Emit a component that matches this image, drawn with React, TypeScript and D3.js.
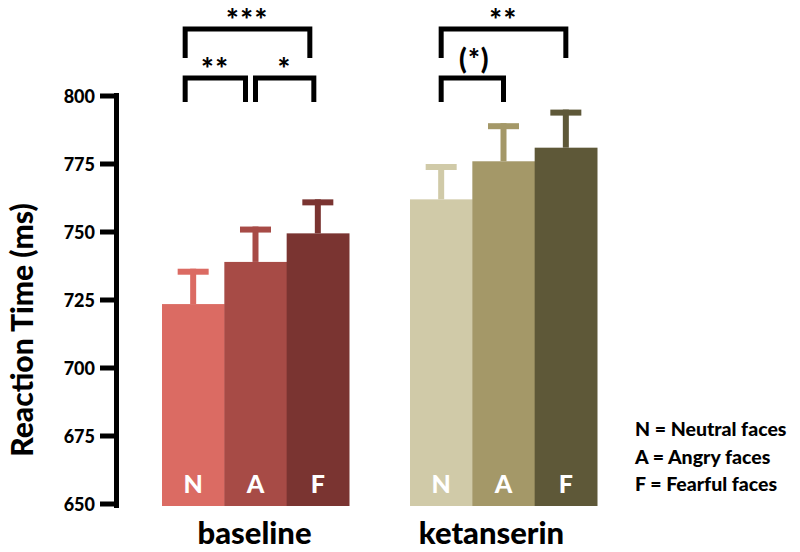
import React, { useEffect, useRef } from 'react';
import * as d3 from 'd3';

// data
const groups = ['baseline', 'ketanserin'];
const conditions = ['N', 'A', 'F'];
const baselineMeans = [723.5, 739, 749.5];
const baselineSE = [13, 13, 12.5];
const ketanserinMeans = [762, 776, 781];
const ketanserinSE = [13, 14, 14];
const yTicks = [650, 675, 700, 725, 750, 775, 800];
const legendLines = ['N = Neutral faces', 'A = Angry faces', 'F = Fearful faces'];

// significance brackets: group, from, to, label, level (0 = lower)
const brackets = [
  { group: 'baseline', from: 'N', to: 'F', label: '***', level: 1 },
  { group: 'baseline', from: 'N', to: 'A', label: '**', level: 0 },
  { group: 'baseline', from: 'A', to: 'F', label: '*', level: 0 },
  { group: 'ketanserin', from: 'N', to: 'F', label: '**', level: 1 },
  { group: 'ketanserin', from: 'N', to: 'A', label: '(*)', level: 0 },
];

const colors: Record<string, string[]> = {
  baseline: ['#DB6B63', '#A74B46', '#7A3431'],
  ketanserin: ['#D0CAA8', '#A49868', '#5E5838'],
};

const FONT = 'Lato, "Open Sans", sans-serif';
const W = 900;

const App = () => {
  const svgRef = useRef<SVGSVGElement>(null);

  useEffect(() => {
    document.body.style.margin = '0';
    const svg = d3.select(svgRef.current);
    svg.selectAll('*').remove();

    const y = d3.scaleLinear().domain([650, 800]).range([504, 96]);
    const x0 = d3.scaleBand().domain(groups).range([162, 597]).paddingInner(0.246);
    const x1 = d3.scaleBand().domain(conditions).range([0, x0.bandwidth()]);

    const rows = groups.flatMap((g) => {
      const means = g === 'baseline' ? baselineMeans : ketanserinMeans;
      const se = g === 'baseline' ? baselineSE : ketanserinSE;
      return conditions.map((c, i) => ({ group: g, cond: c, i, mean: means[i], se: se[i] }));
    });

    const cx = (g: string, c: string) => (x0(g) as number) + (x1(c) as number) + x1.bandwidth() / 2;

    // bars
    svg.append('g').selectAll('rect')
      .data(rows)
      .enter().append('rect')
      .attr('x', (d) => (x0(d.group) as number) + (x1(d.cond) as number))
      .attr('y', (d) => y(d.mean))
      .attr('width', x1.bandwidth() + 0.5)
      .attr('height', (d) => y(650) + 2 - y(d.mean))
      .attr('fill', (d) => colors[d.group][d.i]);

    // error bars (upper only)
    const err = svg.append('g');
    rows.forEach((d) => {
      const c = cx(d.group, d.cond);
      const top = y(d.mean + d.se);
      err.append('rect')
        .attr('x', c - 3).attr('y', top).attr('width', 6).attr('height', y(d.mean) - top)
        .attr('fill', colors[d.group][d.i]);
      err.append('rect')
        .attr('x', c - 15.5).attr('y', top).attr('width', 31).attr('height', 6)
        .attr('fill', colors[d.group][d.i]);
    });

    // letters inside bars
    svg.append('g').selectAll('text')
      .data(rows)
      .enter().append('text')
      .attr('x', (d) => cx(d.group, d.cond))
      .attr('y', 493)
      .attr('text-anchor', 'middle')
      .attr('font-family', FONT)
      .attr('font-weight', W)
      .attr('font-size', 25)
      .attr('fill', '#fff')
      .text((d) => d.cond);

    // y axis
    const axis = svg.append('g');
    axis.append('rect').attr('x', 114).attr('y', y(800) - 3).attr('width', 5).attr('height', y(650) - y(800) + 7).attr('fill', '#000');
    yTicks.forEach((t) => {
      axis.append('rect').attr('x', 100).attr('y', y(t) - 2.5).attr('width', 19).attr('height', 5).attr('fill', '#000');
      axis.append('text')
        .attr('x', 95).attr('y', y(t) + 6.5)
        .attr('text-anchor', 'end')
        .attr('font-family', FONT).attr('font-weight', W).attr('font-size', 18)
        .text(t);
    });

    svg.append('text')
      .attr('transform', `translate(33, 330) rotate(-90)`)
      .attr('text-anchor', 'middle')
      .attr('font-family', FONT).attr('font-weight', W).attr('font-size', 30)
      .text('Reaction Time (ms)');

    // group labels
    const labelShift: Record<string, number> = { baseline: -1, ketanserin: -12 };
    svg.append('g').selectAll('text')
      .data(groups)
      .enter().append('text')
      .attr('x', (g) => (x0(g) as number) + x0.bandwidth() / 2 + labelShift[g])
      .attr('y', 544)
      .attr('text-anchor', 'middle')
      .attr('font-family', FONT).attr('font-weight', W).attr('font-size', 31)
      .text((g) => g);

    // significance brackets
    const levelTop = [78, 29];
    const levelBottom = [102, 58];
    const legShift: Record<string, number[]> = {
      'baseline-N-F': [-8, -8],
      'baseline-N-A': [-8, -10],
      'baseline-A-F': [0, -4],
    };
    const br = svg.append('g');
    brackets.forEach((b) => {
      const sh = legShift[`${b.group}-${b.from}-${b.to}`] || [0, 0];
      const xa = cx(b.group, b.from) + sh[0];
      const xb = cx(b.group, b.to) + sh[1];
      const top = levelTop[b.level];
      const bot = levelBottom[b.level];
      const paren = b.label.startsWith('(');
      br.append('path')
        .attr('d', `M${xa},${bot}V${top}H${xb}V${bot}`)
        .attr('fill', 'none')
        .attr('stroke', '#000')
        .attr('stroke-width', 5)
        .attr('stroke-linejoin', 'miter');
      br.append('text')
        .attr('x', (xa + xb) / 2 + (paren ? 2 : 0))
        .attr('y', top + (paren ? -9 : 2))
        .attr('text-anchor', 'middle')
        .attr('font-family', FONT).attr('font-weight', W).attr('font-size', paren ? 28 : 30)
        .attr('letter-spacing', paren ? 1 : 1.5)
        .text(b.label);
    });

    // legend
    svg.append('g').selectAll('text')
      .data(legendLines)
      .enter().append('text')
      .attr('x', 635)
      .attr('y', (_, i) => 436 + i * 27.5)
      .attr('font-family', FONT).attr('font-weight', W).attr('font-size', 19.5)
      .text((d) => d);
  }, []);

  return <svg ref={svgRef} width={800} height={552} style={{ display: 'block', background: '#fff' }} />;
};

export default App;
